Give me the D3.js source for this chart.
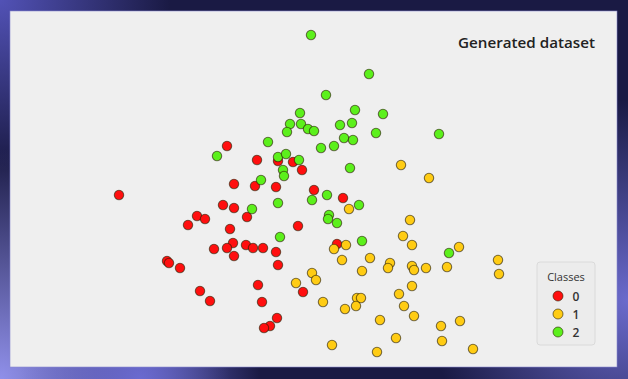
<!DOCTYPE html>
<html>
<head>
<meta charset="UTF-8">
<title>Generated dataset</title>
<script src="https://cdn.jsdelivr.net/npm/d3@7"></script>
<style>
  html, body { margin: 0; padding: 0; background: #1c1c48; }
  svg { display: block; }
</style>
</head>
<body>
<svg id="chart" width="628" height="379"></svg>
<script>
// class labels + colours
var classes = ["0", "1", "2"];
var classColors = ["#ff0f0f", "#ffcc14", "#5cf01c"];

// class 0 (red)
var x0 = [-3.62, -1.46, -0.86, -0.44, -0.14, 0.04, -1.32, -0.90, -0.48, 0.28,
          0.86, -1.32, -1.54, -1.06, -2.06, -1.90, -2.24, -1.40, -0.04, -1.34,
          -1.08, -0.94, -0.74, -1.72, -1.46, -0.48, -1.32, -0.44, -2.66, -2.62,
          -2.40, 0.74, -0.84, -2.00, -1.80, -0.76, -0.46, -0.60, -0.72, 0.06];
var y0 = [0.10, 1.08, 0.80, 0.78, 0.76, 0.60, 0.32, 0.28, 0.26, 0.20,
          0.04, -0.16, -0.10, -0.34, -0.32, -0.38, -0.50, -0.58, -0.52, -0.86,
          -0.90, -0.96, -0.96, -0.98, -0.96, -1.04, -1.12, -1.30, -1.22, -1.26,
          -1.36, -0.88, -1.70, -1.82, -2.02, -2.04, -2.36, -2.52, -2.56, -1.84];

// class 1 (yellow)
var x1 = [2.02, 2.58, 0.98, 0.92, 0.68, 2.20, 2.06, 2.24, 3.18, 0.84,
          1.40, 1.80, 1.76, 1.24, 2.24, 2.28, 2.52, 2.94, 3.96, 3.98,
          0.24, 0.32, -0.08, 2.24, 1.98, 0.46, 1.14, 1.22, 1.12, 0.90,
          2.08, 2.28, 1.60, 2.82, 3.20, 1.92, 2.84, 0.64, 1.54, 3.46];
var y1 = [0.70, 0.44, -0.18, -0.90, -0.98, -0.40, -0.72, -0.90, -0.94, -1.20,
          -1.16, -1.26, -1.36, -1.42, -1.32, -1.40, -1.36, -1.34, -1.20, -1.48,
          -1.46, -1.60, -1.66, -1.72, -1.88, -2.04, -1.96, -1.96, -2.12, -2.18,
          -2.12, -2.32, -2.40, -2.52, -2.42, -2.76, -2.82, -2.90, -3.04, -2.98];

// class 2 (green)
var x2 = [0.22, 1.38, 0.52, 0.00, 1.10, 1.66, -0.20, 0.02, 0.16, 0.28,
          -0.26, 0.80, 1.04, 1.52, 2.78, 0.88, 1.06, -0.64, 0.42, 0.68,
          -1.66, -0.44, -0.28, -0.02, 1.00, -0.34, -0.32, -0.78, -0.44, 0.24,
          0.54, 1.18, -0.96, 0.58, 0.56, 0.74, -0.40, 1.24, 2.98];
var y2 = [3.30, 2.52, 2.10, 1.74, 1.80, 1.72, 1.52, 1.52, 1.42, 1.38,
          1.36, 1.50, 1.54, 1.34, 1.32, 1.24, 1.20, 1.16, 1.04, 1.08,
          0.88, 0.86, 0.92, 0.80, 0.64, 0.60, 0.48, 0.40, -0.06, 0.00,
          0.10, -0.10, -0.18, -0.30, -0.38, -0.46, -0.74, -0.82, -1.06];

var W = 628, H = 379;
var svg = d3.select("#chart");
var defs = svg.append("defs");

// frame glow spots
function glow(id, cx, cy, r, col) {
    var g = defs.append("radialGradient").attr("id", id)
        .attr("gradientUnits", "userSpaceOnUse")
        .attr("cx", cx).attr("cy", cy).attr("r", r);
    g.append("stop").attr("offset", "0%").attr("stop-color", col).attr("stop-opacity", 1);
    g.append("stop").attr("offset", "100%").attr("stop-color", col).attr("stop-opacity", 0);
    svg.append("rect").attr("width", W).attr("height", H).attr("fill", "url(#" + id + ")");
}
svg.append("rect").attr("width", W).attr("height", H).attr("fill", "#1a1a44");
glow("g1", 0, 0, 170, "#5252b6");
glow("g2", 0, 379, 230, "#9090ea");
glow("g3", 628, 300, 200, "#6b6bcc");
glow("g4", 140, 379, 120, "#6a6ad0");

// panel
svg.append("rect")
    .attr("x", 10).attr("y", 11)
    .attr("width", 607).attr("height", 356)
    .attr("fill", "#efefef")
    .attr("stroke", "#8a8ad0").attr("stroke-width", 0.6);

var x = d3.scaleLinear().domain([-3, 3]).range([150, 450]);
var y = d3.scaleLinear().domain([-3, 3]).range([350, 50]);
var color = d3.scaleOrdinal().domain(classes).range(classColors);

var points = [];
[[x0, y0], [x1, y1], [x2, y2]].forEach(function (s, k) {
    s[0].forEach(function (v, i) {
        points.push({x: v, y: s[1][i], c: classes[k]});
    });
});

svg.append("g").selectAll("circle")
    .data(points)
    .enter().append("circle")
    .attr("cx", function (d) { return x(d.x); })
    .attr("cy", function (d) { return y(d.y); })
    .attr("r", 4.7)
    .attr("fill", function (d) { return color(d.c); })
    .attr("stroke", "rgba(40,30,0,0.6)")
    .attr("stroke-width", 1.1);

// title
svg.append("text")
    .attr("x", 595).attr("y", 48)
    .attr("text-anchor", "end")
    .attr("font-family", "'Open Sans', Lato, sans-serif")
    .attr("font-size", 15)
    .attr("font-weight", 600)
    .attr("fill", "#222")
    .attr("textLength", 137)
    .attr("lengthAdjust", "spacingAndGlyphs")
    .text("Generated dataset");

// legend
var lg = svg.append("g").attr("transform", "translate(537,262)");
lg.append("rect")
    .attr("width", 58).attr("height", 83).attr("rx", 3)
    .attr("fill", "#ececec")
    .attr("stroke", "#dadada");
lg.append("text")
    .attr("x", 29).attr("y", 19)
    .attr("text-anchor", "middle")
    .attr("font-family", "'Open Sans', Lato, sans-serif")
    .attr("font-size", 11)
    .attr("fill", "#333")
    .text("Classes");
var ly = d3.scaleBand().domain(classes).range([25, 79]);
var items = lg.selectAll("g.item").data(classes).enter()
    .append("g").attr("class", "item")
    .attr("transform", function (d) { return "translate(0," + (ly(d) + ly.bandwidth() / 2) + ")"; });
items.append("circle")
    .attr("cx", 21).attr("r", 5)
    .attr("fill", function (d) { return color(d); })
    .attr("stroke", "rgba(40,30,0,0.6)");
items.append("text")
    .attr("x", 39).attr("y", 4.5)
    .attr("text-anchor", "middle")
    .attr("font-family", "'Open Sans', Lato, sans-serif")
    .attr("font-size", 12)
    .attr("font-weight", 600)
    .attr("fill", "#333")
    .text(function (d) { return d; });
</script>
</body>
</html>
